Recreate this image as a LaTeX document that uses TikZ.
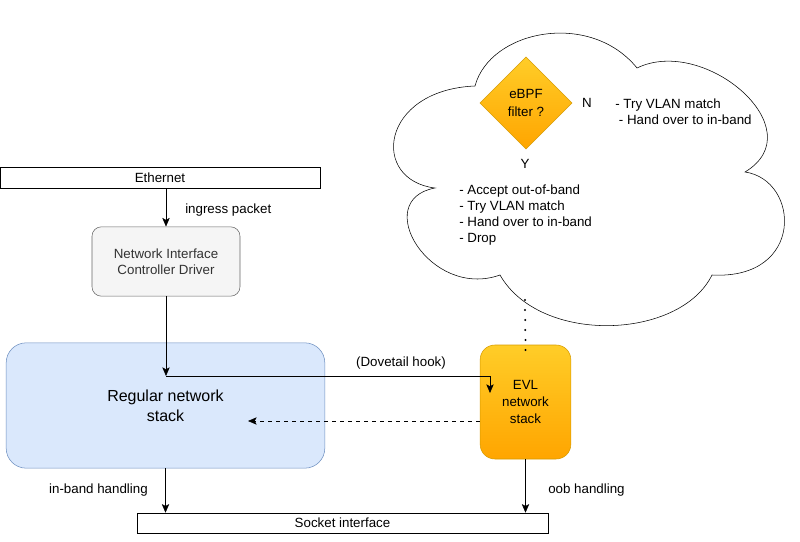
\documentclass[tikz,border=0pt]{standalone}
\usepackage{fontspec}
\setmainfont{Liberation Sans}
\usetikzlibrary{arrows.meta,shapes.geometric}

\definecolor{stackfill}{HTML}{DAE8FC}
\definecolor{stackedge}{HTML}{6C8EBF}
\definecolor{evltop}{HTML}{FFCD28}
\definecolor{evlbot}{HTML}{FFA500}
\definecolor{evledge}{HTML}{D79B00}
\definecolor{nicfill}{HTML}{F5F5F5}
\definecolor{nicedge}{HTML}{666666}
\definecolor{nictext}{HTML}{333333}

\begin{document}
\begin{tikzpicture}[
  x=0.75pt, y=-0.75pt,
  font=\fontsize{10}{12}\selectfont,
  bar/.style   ={draw, inner sep=0pt, minimum height=16pt},
  nic/.style   ={draw=nicedge, fill=nicfill, text=nictext, rounded corners=7pt,
                 align=center, minimum width=111pt, minimum height=52pt},
  stack/.style ={draw=stackedge, fill=stackfill, rounded corners=15pt,
                 align=center, minimum width=239pt, minimum height=94pt,
                 font=\fontsize{12}{15}\selectfont},
  evl/.style   ={draw=evledge, top color=evltop, bottom color=evlbot,
                 rounded corners=11pt, align=center, minimum width=68pt,
                 minimum height=85.5pt, font=\fontsize{10}{13}\selectfont},
  filter/.style={diamond, draw=evledge, top color=evltop, bottom color=evlbot,
                 inner sep=0pt, minimum size=69pt, align=center,
                 font=\fontsize{10}{13}\selectfont},
  lbl/.style   ={inner sep=0pt},
  ar/.style    ={-{Stealth[length=6.5pt, width=5.5pt, inset=1.5pt]}},
  dots/.style  ={line width=1.7pt, line cap=round, dash pattern=on 0pt off 7.5pt}
]
\useasboundingbox (0,0) rectangle (800,542);

% cloud
\draw[fill=white] (475,86) .. controls (490,30) and (590,10) .. (637,68)
  .. controls (705,35) and (815,130) .. (745,172)
  .. controls (800,180) and (805,280) .. (712,275)
  .. controls (680,340) and (540,345) .. (500,275)
  .. controls (430,300) and (370,200) .. (435,188)
  .. controls (370,180) and (380,90) .. (475,86) -- cycle;

\node[filter] (bpf) at (526,103) {eBPF\\filter ?};
\node[lbl] (no) at (587,103) {N};
\node[lbl] (yes) at (525,164) {Y};
\node[lbl, anchor=west, align=left] (nolist) at (615,111.5)
  {- Try VLAN match\\\ - Hand over to in-band};
\node[lbl, anchor=west, align=left] (yeslist) at (459,215.5)
  {- Accept out-of-band\\- Try VLAN match\\- Hand over to in-band\\- Drop};

\node[bar, minimum width=240pt] (eth) at (160,178) {Ethernet};
\node[nic] (drv) at (166,261.5) {Network Interface\\Controller Driver};
\node[stack] (reg) at (165.5,405.5) {Regular network\\stack};
\node[evl] (evl) at (525.5,402) {EVL\\network\\stack};
\node[bar, minimum width=308pt, minimum height=15pt] (sock) at (342.5,523) {Socket interface};

\coordinate (hook) at (166,376);
\coordinate (hookend) at (490,393);
\coordinate (back) at (248,421);
\coordinate (cloudfoot) at (525,300);

\draw[ar] (eth.south -| drv) -- (drv.north);
\node[lbl, anchor=west] (ingress) at (185,210) {ingress packet};
\draw[ar] (drv.south) -- (hook);
\draw[ar] (hook) -| (hookend);
\node[lbl] (dove) at (401,363) {(Dovetail hook)};
\draw[ar, dashed] (evl.west |- back) -- (back);
\draw[dots] (cloudfoot) -- ([yshift=-5pt]evl.north);
\draw[ar] (reg.south) -- (reg.south |- sock.north);
\node[lbl, anchor=east] (inband) at (148,490) {in-band handling};
\draw[ar] (evl.south) -- (evl.south |- sock.north);
\node[lbl, anchor=west] (oob) at (548,490) {oob handling};

\end{tikzpicture}
\end{document}
